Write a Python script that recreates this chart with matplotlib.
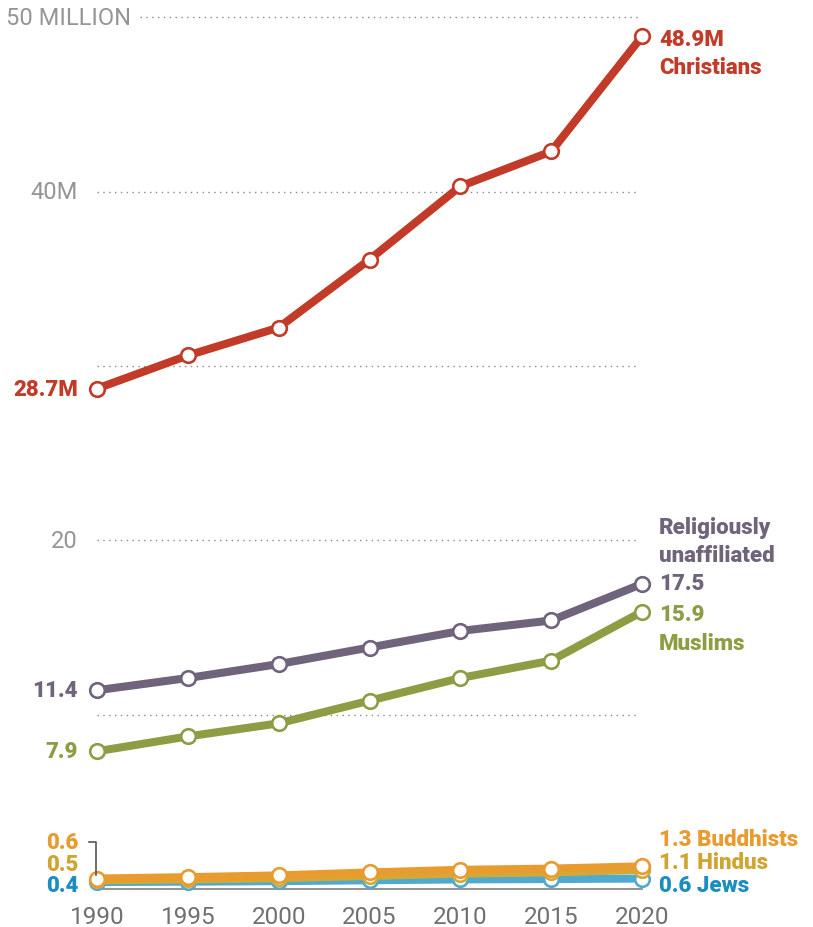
import matplotlib
matplotlib.use("Agg")
import matplotlib.pyplot as plt
from matplotlib.transforms import offset_copy
from matplotlib.lines import Line2D

years = [1990, 1995, 2000, 2005, 2010, 2015, 2020]
christians = [28.7, 30.6, 32.2, 36.1, 40.3, 42.3, 48.9]
unaffiliated = [11.4, 12.1, 12.9, 13.85, 14.8, 15.4, 17.5]
muslims = [7.9, 8.75, 9.5, 10.8, 12.1, 13.1, 15.9]
jews = [0.4, 0.42, 0.45, 0.5, 0.55, 0.57, 0.6]
hindus = [0.5, 0.55, 0.62, 0.75, 0.88, 0.95, 1.1]
buddhists = [0.6, 0.68, 0.78, 0.95, 1.1, 1.17, 1.3]

grid_values = [10, 20, 30, 40, 50]
ytick_labels = {20: "20", 40: "40M", 50: "50 MILLION"}

C_CHR = "#c23b28"
C_UNA = "#70647c"
C_MUS = "#8e9c44"
C_BUD = "#e89b2f"
C_HIN = "#d3a935"
C_HIN_T = "#cfa430"
C_JEW = "#4fa9d0"
C_JEW_T = "#1a8dc1"
GRID = "#888888"
TICK = "#959595"
YEAR = "#707070"

BOLD = ["Roboto", "DejaVu Sans"]
LIGHT = ["Roboto", "DejaVu Sans"]

W, H = 813, 928
fig = plt.figure(figsize=(W / 100, H / 100), dpi=100)
x0, x1 = 97, 642
y0, y1 = 890, 18.2
ax = fig.add_axes([x0 / W, (H - y0) / H, (x1 - x0) / W, (y0 - y1) / H])
ax.set_xlim(1990, 2020)
ax.set_ylim(0, 50)
ax.axis("off")

def off(dx, dy):
    return offset_copy(ax.transData, fig=fig, x=dx, y=dy, units="dots")

# gridlines
for g in grid_values:
    start = 1990 if g != 50 else 1990 + (140 - x0) / (x1 - x0) * 30
    ax.plot([start, 2019.8], [g, g], color=GRID, lw=1.0, ls=(0, (1, 3.2)),
            zorder=1, clip_on=False)
# baseline
ax.plot([1990, 2020], [0, 0], color="#8a8a8a", lw=1.3, zorder=1, clip_on=False)

# y tick labels
for v, lab in ytick_labels.items():
    dx = 34 if v == 50 else -19
    ax.text(1990, v, lab, transform=off(dx, 0), ha="right", va="center",
            fontsize=17, color=TICK, family=LIGHT)
# year labels
for yr in years:
    ax.text(yr, 0, str(yr), transform=off(0, -28), ha="center", va="center",
            fontsize=17.5, color=YEAR, family=LIGHT)

series = [
    (jews, C_JEW), (hindus, C_HIN), (buddhists, C_BUD),
    (muslims, C_MUS), (unaffiliated, C_UNA), (christians, C_CHR),
]
for i, (vals, col) in enumerate(series):
    ax.plot(years, vals, color=col, lw=5.8, zorder=3 + i, clip_on=False,
            solid_capstyle="butt",
            marker="o", markersize=10.5, markerfacecolor="white",
            markeredgecolor=col, markeredgewidth=1.9)

def ltxt(x, y, s, col, dx, dy, ha="left"):
    ax.text(x, y, s, transform=off(dx, dy), ha=ha, va="center", fontsize=16,
            color=col, family=BOLD, fontweight="heavy")

# left labels
ltxt(1990, christians[0], "28.7M", C_CHR, -19, 0, "right")
ltxt(1990, unaffiliated[0], "11.4", C_UNA, -19, 0, "right")
ltxt(1990, muslims[0], "7.9", C_MUS, -19, 0, "right")
ltxt(1990, 0, "0.6", C_BUD, -19, 890 - 843, "right")
ltxt(1990, 0, "0.5", C_HIN_T, -19, 890 - 865, "right")
ltxt(1990, 0, "0.4", C_JEW_T, -19, 890 - 886, "right")

# bracket
bx = ax.transData.transform((1990, 0))
ln = Line2D([bx[0] - 8, bx[0] - 1, bx[0] - 1], [H - 843, H - 843, H - 876],
            transform=None, color="#555555", lw=1.2, zorder=2)
fig.add_artist(ln)

# right labels
ltxt(2020, christians[-1], "48.9M", C_CHR, 17, -3)
ltxt(2020, christians[-1], "Christians", C_CHR, 17, -31)
ltxt(2020, unaffiliated[-1], "Religiously", C_UNA, 17, 57)
ltxt(2020, unaffiliated[-1], "unaffiliated", C_UNA, 17, 29)
ltxt(2020, unaffiliated[-1], "17.5", C_UNA, 17, 1)
ltxt(2020, muslims[-1], "15.9", C_MUS, 17, -2)
ltxt(2020, muslims[-1], "Muslims", C_MUS, 17, -31)
ltxt(2020, 0, "1.3 Buddhists", C_BUD, 17, 890 - 840)
ltxt(2020, 0, "1.1 Hindus", C_HIN_T, 17, 890 - 863)
ltxt(2020, 0, "0.6 Jews", C_JEW_T, 17, 890 - 886)

fig.savefig("out.png", dpi=100)
